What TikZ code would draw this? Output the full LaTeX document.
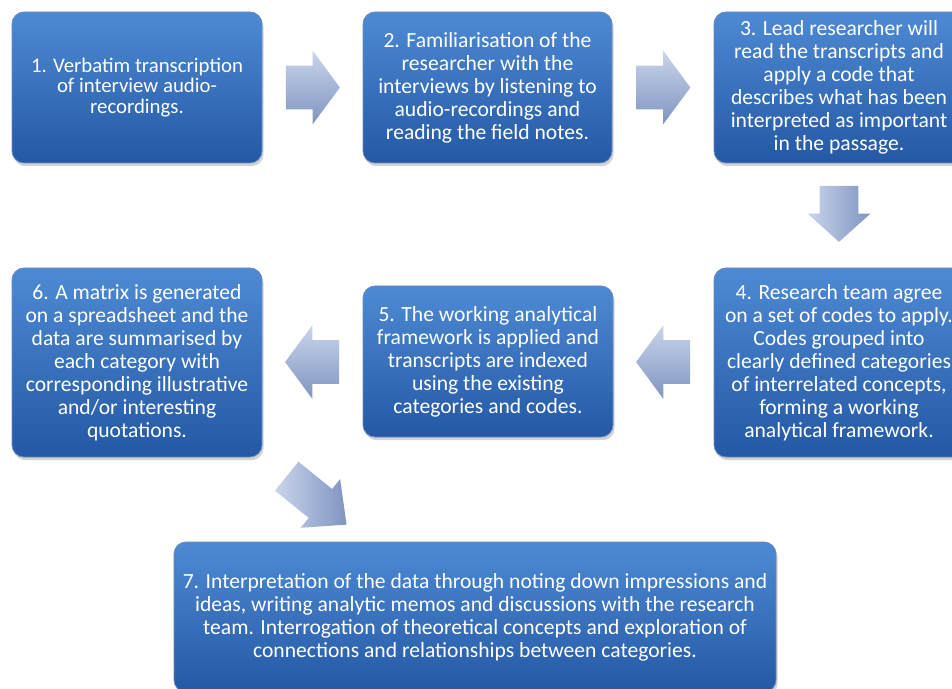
\documentclass[tikz,border=0pt]{standalone}
\usepackage{fontspec}
\setmainfont{Carlito}
\usetikzlibrary{shapes.arrows,shadows,calc}

\definecolor{boxtop}{RGB}{78,138,212}
\definecolor{boxbottom}{RGB}{36,88,164}
\definecolor{arrowtop}{RGB}{202,213,235}
\definecolor{arrowbottom}{RGB}{128,148,192}

\tikzset{
  stepbox/.style={rectangle, rounded corners=6pt, top color=boxtop, bottom color=boxbottom,
    draw=boxbottom!70!white, text=white, align=center, inner sep=0pt,
    font=\fontsize{10.8}{11.5}\selectfont,
    drop shadow={shadow xshift=0.8pt, shadow yshift=-1.6pt, opacity=0.35}},
  flowarrow/.style={single arrow, inner xsep=0pt, single arrow head indent=0pt,
    minimum width=0pt, anchor=tail},
  harrow/.style={flowarrow, top color=arrowtop, bottom color=arrowbottom,
    inner ysep=10.75pt, single arrow head extend=7.5pt,
    single arrow tip angle=107, minimum height=27pt},
  varrow/.style={flowarrow, left color=arrowtop, right color=arrowbottom,
    inner ysep=9.5pt, single arrow head extend=6pt,
    single arrow tip angle=96, minimum height=28pt, rotate=-90}
}

\begin{document}
\begin{tikzpicture}[x=0.5pt,y=-0.5pt]
   \useasboundingbox (0,0) rectangle (952,689);
   % steps
   \node[stepbox, minimum width=125pt, minimum height=75.5pt, font=\fontsize{10.4}{10.4}\selectfont] (s_1) at (137,87.5)
      {1. Verbatim transcription\\ of interview audio-\\ recordings.};
   \node[stepbox, minimum width=124.5pt, minimum height=75.5pt] (s_2) at (487.5,87.5)
      {2. Familiarisation of the\\ researcher with the\\ interviews by listening to\\ audio-recordings and\\ reading the field notes.};
   \node[stepbox, minimum width=125pt, minimum height=75.5pt] (s_3) at (839,87.5)
      {3. Lead researcher will\\ read the transcripts and\\ apply a code that\\ describes what has been\\ interpreted as important\\ in the passage.};
   \node[stepbox, minimum width=125pt, minimum height=94.5pt] (s_4) at (839,362.5)
      {4. Research team agree\\ on a set of codes to apply.\\ Codes grouped into\\ clearly defined categories\\ of interrelated concepts,\\ forming a working\\ analytical framework.};
   \node[stepbox, minimum width=125pt, minimum height=75.5pt] (s_5) at (488,361.5)
      {5. The working analytical\\ framework is applied and\\ transcripts are indexed\\ using the existing\\ categories and codes.};
   \node[stepbox, minimum width=125pt, minimum height=94.5pt] (s_6) at (137,362.5)
      {6. A matrix is generated\\ on a spreadsheet and the\\ data are summarised by\\ each category with\\ corresponding illustrative\\ and/or interesting\\ quotations.};
   \node[stepbox, minimum width=301pt, minimum height=75pt] (s_7) at (475,617)
      {7. Interpretation of the data through noting down impressions and\\ ideas, writing analytic memos and discussions with the research\\ team. Interrogation of theoretical concepts and exploration of\\ connections and relationships between categories.};
   % arrows, placed by their tails
   \node[harrow] (a_12) at ($(s_1.east)!0.5!(s_2.west)+(-27,0)$) {};
   \node[harrow] (a_23) at ($(s_2.east)!0.5!(s_3.west)+(-27,0)$) {};
   \node[varrow] (a_34) at ($(s_3.south)!0.5!(s_4.north)+(0,-30)$) {};
   \node[harrow, shape border rotate=180] (a_45) at ($(s_4.west)!0.5!(s_5.east)+(27,0)$) {};
   \node[harrow, shape border rotate=180] (a_56) at ($(s_5.west)!0.5!(s_6.east)+(27,0)$) {};
   \node[flowarrow, left color=arrowtop, right color=arrowbottom, inner ysep=9.1pt,
      single arrow head extend=6.4pt, single arrow tip angle=86, minimum height=38.5pt,
      rotate=-39] (a_67) at ($(s_6.south east)+(24,18.5)$) {};
\end{tikzpicture}
\end{document}
